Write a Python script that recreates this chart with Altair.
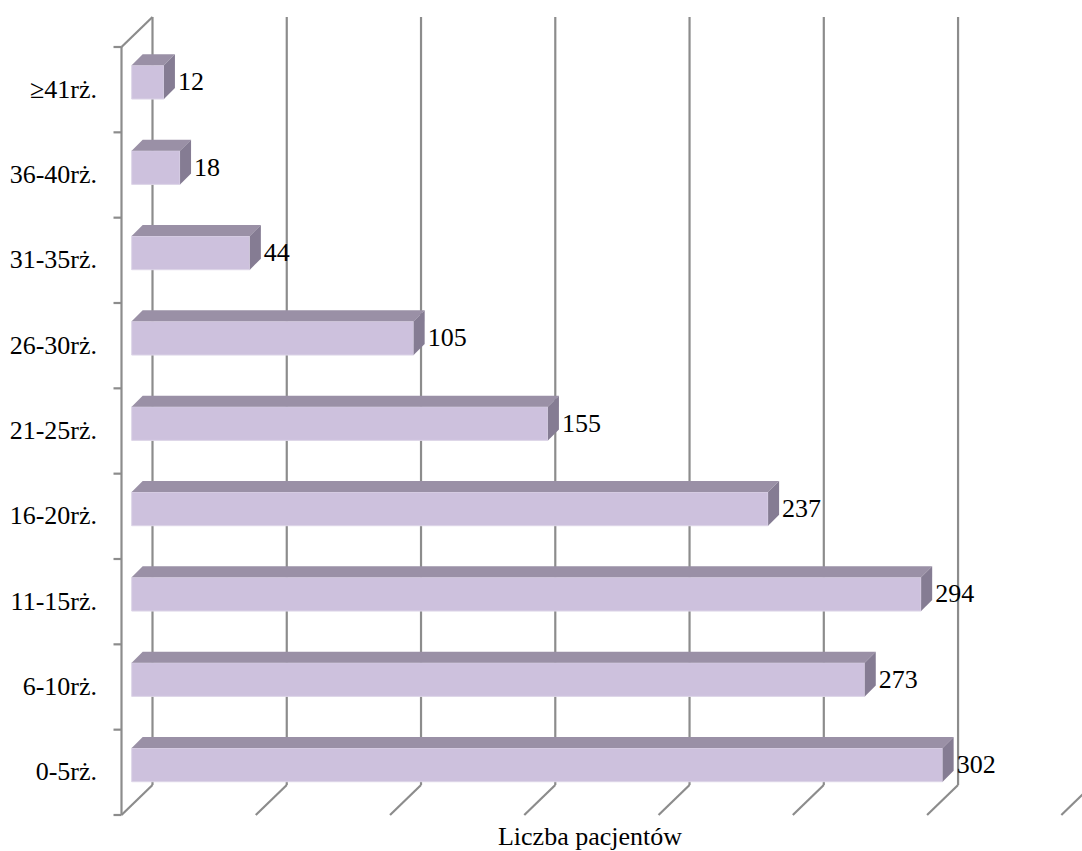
import altair as alt
import pandas as pd

# Age-group categories (bottom to top) and patient counts
categories = ["0-5rż.", "6-10rż.", "11-15rż.", "16-20rż.", "21-25rż.",
              "26-30rż.", "31-35rż.", "36-40rż.", "≥41rż."]
counts = [302, 273, 294, 237, 155, 105, 44, 18, 12]
grid_values = [0, 50, 100, 150, 200, 250, 300, 350]
x_title = "Liczba pacjentów"

FONT = "Liberation Serif"
FRONT = "#CDC1DD"
TOP = "#9A90A6"
SIDE = "#857C93"
GRID = "#8C8C8C"

# scale geometry
X_DOMAIN = [-3.985, 353.9]
Y_DOMAIN = [0, 9]
FACE_LO, FACE_HI = 0.39, 0.785      # front face of a bar within its row
DEPTH_X, DEPTH_Y = 4.1, 0.129       # bar depth in data units
WALL_DX, FLOOR_DX, WALL_DY = 20.8, -10.2, -30   # perspective offsets (px)

xs = alt.Scale(domain=X_DOMAIN, nice=False, zero=False)
ys = alt.Scale(domain=Y_DOMAIN, nice=False, zero=False)

bars = pd.DataFrame({"cat": categories, "value": counts,
                     "row": list(range(len(categories)))})
bars["zero"] = 0
bars["y1"] = bars["row"] + FACE_LO
bars["y2"] = bars["row"] + FACE_HI
bars["ymid"] = (bars["y1"] + bars["y2"]) / 2
bars["ycat"] = bars["row"] + 0.5

top_rows, side_rows = [], []
for c, v, r in zip(categories, counts, range(len(categories))):
    top_rows.append({"cat": c, "ty": r + FACE_HI, "tx": 0, "tx2": v})
    top_rows.append({"cat": c, "ty": r + FACE_HI + DEPTH_Y, "tx": DEPTH_X, "tx2": v + DEPTH_X})
    side_rows.append({"cat": c, "sx": v, "sy": r + FACE_LO, "sy2": r + FACE_HI})
    side_rows.append({"cat": c, "sx": v + DEPTH_X, "sy": r + FACE_LO + DEPTH_Y,
                      "sy2": r + FACE_HI + DEPTH_Y})
top_df = pd.DataFrame(top_rows)
side_df = pd.DataFrame(side_rows)

grid = pd.DataFrame({"v": grid_values})
grid["y0"] = 0
grid["y9"] = 9
ticks = pd.DataFrame({"t": list(range(10))})
ticks["zero"] = 0

X = lambda f: alt.X(f, scale=xs, axis=None)
Y = lambda f: alt.Y(f, scale=ys, axis=None)

# back-wall gridlines
wall = alt.Chart(grid).mark_rule(
    color=GRID, strokeWidth=2.2, xOffset=WALL_DX, yOffset=WALL_DY, y2Offset=WALL_DY
).encode(x=X("v:Q"), y=Y("y0:Q"), y2="y9:Q")

# floor diagonals
floor = alt.Chart(grid).mark_rule(
    color=GRID, strokeWidth=2.2, xOffset=FLOOR_DX, x2Offset=WALL_DX, y2Offset=WALL_DY
).encode(x=X("v:Q"), x2="v:Q", y=Y("y0:Q"), y2="y0:Q")

# front axis line, its top diagonal and the ticks
origin = grid[grid["v"] == 0]
front_axis = alt.Chart(origin).mark_rule(
    color=GRID, strokeWidth=2.2, xOffset=FLOOR_DX
).encode(x=X("v:Q"), y=Y("y0:Q"), y2="y9:Q")
top_diag = alt.Chart(origin).mark_rule(
    color=GRID, strokeWidth=2.2, xOffset=FLOOR_DX, x2Offset=WALL_DX, y2Offset=WALL_DY
).encode(x=X("v:Q"), x2="v:Q", y=Y("y9:Q"), y2="y9:Q")
tick_marks = alt.Chart(ticks).mark_rule(
    color=GRID, strokeWidth=2.2, xOffset=FLOOR_DX - 8, x2Offset=FLOOR_DX
).encode(x=X("zero:Q"), x2="zero:Q", y=Y("t:Q"))

# bar faces
front = alt.Chart(bars).mark_rect(color=FRONT, stroke="#DDD5E8", strokeWidth=1).encode(
    x=X("zero:Q"), x2="value:Q", y=Y("y1:Q"), y2="y2:Q"
)
top = alt.Chart(top_df).mark_area(orient="horizontal", color=TOP).encode(
    y=Y("ty:Q"), x=X("tx:Q"), x2="tx2:Q", detail="cat:N"
)
side = alt.Chart(side_df).mark_area(orient="vertical", color=SIDE).encode(
    x=X("sx:Q"), y=Y("sy:Q"), y2="sy2:Q", detail="cat:N"
)

# value labels after each bar
labels = alt.Chart(bars).mark_text(
    align="left", baseline="middle", dx=14, font=FONT, fontSize=26, color="black"
).encode(x=X("value:Q"), y=Y("ymid:Q"), text="value:Q")

# category labels left of the front axis
cat_labels = alt.Chart(bars).mark_text(
    align="right", baseline="middle", dx=-34.7, font=FONT, fontSize=26, color="black"
).encode(x=X("zero:Q"), y=Y("ycat:Q"), text="cat:N")

# axis title under the floor
title = alt.Chart(pd.DataFrame({"t": [x_title]})).mark_text(
    align="center", baseline="alphabetic", font=FONT, fontSize=26, color="black"
).encode(x=alt.value(469), y=alt.value(798), text="t:N")

chart = alt.layer(
    wall, floor, front_axis, top_diag, tick_marks, front, top, side,
    labels, cat_labels, title
).properties(
    width=961, height=768,
    padding={"left": 121, "top": 47, "right": 0, "bottom": 36},
    autosize=alt.AutoSizeParams(type="none"),
    background="white",
).configure_view(stroke=None)

chart.save("out.html", embed_options={"renderer": "svg", "actions": False})
